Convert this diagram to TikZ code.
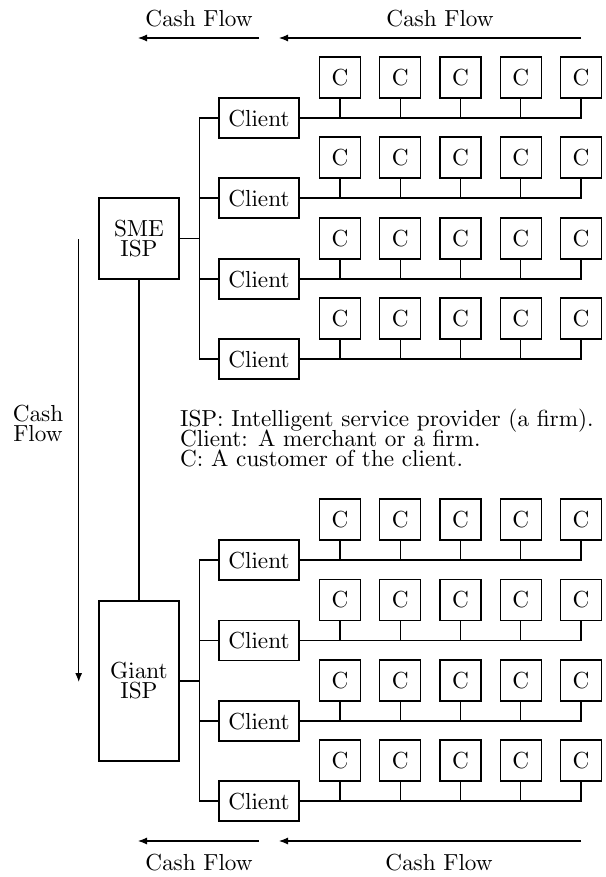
\documentclass[tikz,border=0pt]{standalone}
\usetikzlibrary{arrows.meta}
\font\bigrm=cmr10 at 23.2pt
\tikzset{
  lbl/.style={font=\bigrm, inner sep=0pt},
  box/.style={draw, line width=1.1pt, inner sep=0pt, font=\bigrm},
  clientbox/.style={box, minimum width=80pt, minimum height=40pt},
  cbox/.style={box, minimum width=41pt, minimum height=41pt},
  ispbox/.style={box, minimum width=80pt, align=center, font={\bigrm\baselineskip=20pt}},
  conn/.style={line width=1.1pt},
  cf/.style={line width=1.1pt, -{Latex[length=9pt,width=7pt]}},
}
\begin{document}
\begin{tikzpicture}[x=1pt,y=-1pt]
\useasboundingbox (0,0) rectangle (605,877);
% top group
\foreach \i/\y in {1/118,2/198,3/279,4/359}{
  \node[clientbox] (tc\i) at (259,\y) {Client};
  \foreach \j in {1,...,5}{
    \node[cbox] (tc\i-\j) at ({340+60.25*(\j-1)},{\y-40.5}) {C};
  }
  \draw[conn] (tc\i.east) -| (tc\i-5.south);
  \foreach \j in {1,...,4}{\draw[conn] (tc\i-\j.south) -- (tc\i-\j.south |- tc\i.east);}
}
% bottom group
\foreach \i/\y in {1/560,2/640.5,3/721,4/801}{
  \node[clientbox] (bc\i) at (259,\y) {Client};
  \foreach \j in {1,...,5}{
    \node[cbox] (bc\i-\j) at ({340+60.25*(\j-1)},{\y-40.5}) {C};
  }
  \draw[conn] (bc\i.east) -| (bc\i-5.south);
  \foreach \j in {1,...,4}{\draw[conn] (bc\i-\j.south) -- (bc\i-\j.south |- bc\i.east);}
}
% ISPs
\node[ispbox, minimum height=81pt] (sme) at (139,238.5) {SME\\ISP};
\node[ispbox, minimum height=160pt] (giant) at (139,681) {Giant\\ISP};
\coordinate (tbus) at (199.3,118);
\coordinate (bbus) at (199.3,560);
\draw[conn] (tc1.west) -- (tbus) |- (tc4.west);
\draw[conn] (tc2.west) -- (tc2.west -| tbus);
\draw[conn] (tc3.west) -- (tc3.west -| tbus);
\draw[conn] (sme.east) -- (sme.east -| tbus);
\draw[conn] (bc1.west) -- (bbus) |- (bc4.west);
\draw[conn] (bc2.west) -- (bc2.west -| bbus);
\draw[conn] (bc3.west) -- (bc3.west -| bbus);
\draw[conn] (giant.east) -- (giant.east -| bbus);
\draw[conn] (sme.south) -- (giant.north);
% cash flow arrows top
\node[lbl, anchor=base] (cft1) at (199,27) {Cash Flow};
\node[lbl, anchor=base] (cft2) at (440,27) {Cash Flow};
\coordinate (t1s) at (259,38); \coordinate (t1e) at (138,38);
\coordinate (t2s) at (581,38); \coordinate (t2e) at (279,38);
\draw[cf] (t1s) -- (t1e);
\draw[cf] (t2s) -- (t2e);
% bottom
\node[lbl, anchor=base] (cfb1) at (199,870) {Cash Flow};
\node[lbl, anchor=base] (cfb2) at (439,870) {Cash Flow};
\coordinate (b1s) at (259,841); \coordinate (b1e) at (138,841);
\coordinate (b2s) at (581,841); \coordinate (b2e) at (279,841);
\draw[cf] (b1s) -- (b1e);
\draw[cf] (b2s) -- (b2e);
% left vertical
\node[lbl, align=center, font={\bigrm\baselineskip=20pt}] (cfl) at (38,423) {Cash\\Flow};
\coordinate (vs) at (78.7,239); \coordinate (ve) at (78.7,682);
\draw[cf] (vs) -- (ve);
% legend
\node[lbl, anchor=base west] (lg1) at (180,426) {ISP: Intelligent service provider (a firm).};
\node[lbl, anchor=base west] (lg2) at (180,446) {Client: A merchant or a firm.};
\node[lbl, anchor=base west] (lg3) at (180,466) {C: A customer of the client.};
\end{tikzpicture}
\end{document}
